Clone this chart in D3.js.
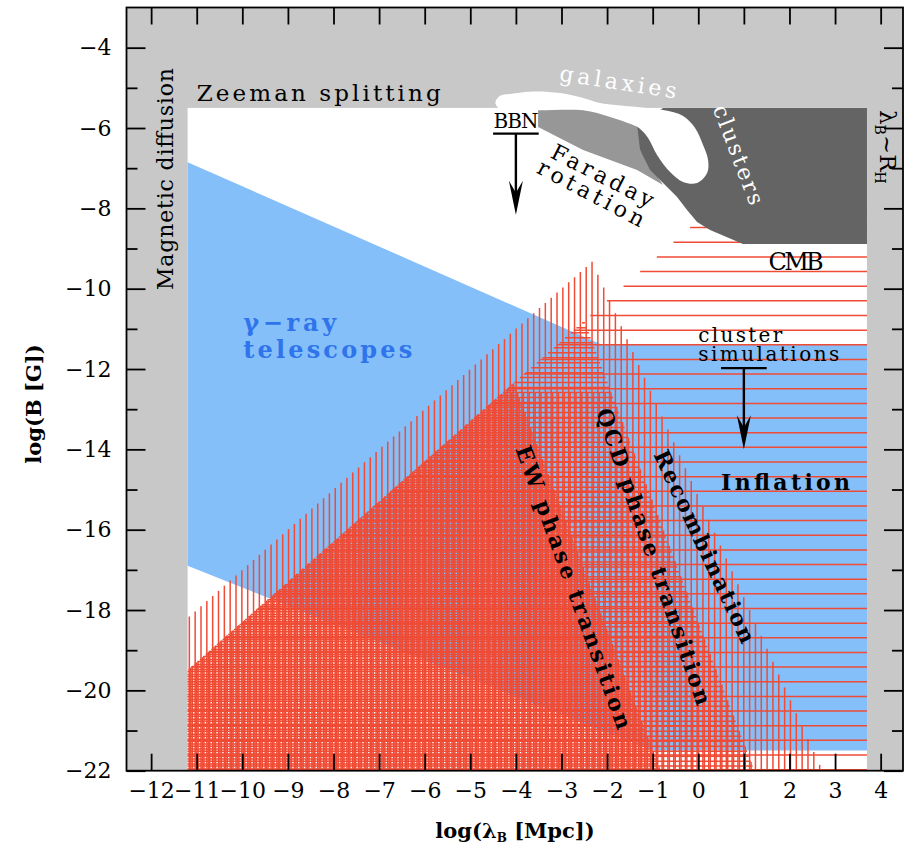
<!DOCTYPE html>
<html><head><meta charset="utf-8">
<script src="https://cdn.jsdelivr.net/npm/d3@7"></script>
<style>body{margin:0;background:#fff}</style>
</head><body>
<svg id="c" width="907" height="848"></svg>
<script>
// ---------------- data (log lambda [Mpc], log B [G]) ----------------
const xTickValues = [-12,-11,-10,-9,-8,-7,-6,-5,-4,-3,-2,-1,0,1,2,3,4];
const yMajorTicks = [-4,-6,-8,-10,-12,-14,-16,-18,-20,-22];
const yMinorTicks = [-5,-7,-9,-11,-13,-15,-17,-19,-21];

const allowedBox = [[-11.2,-5.5],[3.7,-22]];            // white (not excluded) area
const gammaRay = [[-11.2,-6.85],[-2.1,-11.4],[3.7,-11.4],[3.7,-21.5],[-1.0,-21.5],[-11.2,-16.9]];
const faradayRegion = [[-3.513,-5.51],[-1.276,-5.51],[-1.276,-6.546],[-1.057,-6.92],[-0.772,-7.418],
  [-1.342,-7.044],[-2.526,-6.546],[-3.513,-5.976]];
const clusterRegion = [[-1.342,-5.924],[-0.772,-5.5],[3.7,-5.5],[3.7,-8.89],[0.98,-8.89],[0.259,-8.538],
  [-0.026,-8.339],[-0.246,-8.04],[-0.465,-7.717],[-0.772,-7.368],[-1.057,-7.044],[-1.276,-6.546]];
const galaxyBlob = [[-4.45,-5.38],[-4.35,-5.2],[-4.127,-5.153],[-3.623,-5.09],[-3.031,-5.128],[-2.526,-5.252],
  [-2.154,-5.377],[-1.342,-5.478],[-0.772,-5.551],[-0.333,-5.70],[-0.07,-6.0],[0.105,-6.422],[0.215,-6.795],
  [0.193,-7.119],[-0.026,-7.368],[-0.333,-7.343],[-0.618,-7.094],[-0.904,-6.671],[-1.1,-6.248],[-1.3,-6.0],
  [-1.43,-5.924],[-1.934,-5.725],[-2.526,-5.56],[-3.513,-5.56],[-4.3,-5.56]];

// hatched generation regions
const inflationRegion = [[-11.2,-19.5],[0.3,-8.0],[3.7,-8.0],[3.7,-22],[-11.2,-22]];
const recombRegion = [[-11.2,-22],[-11.2,-18.2],[-2.33,-9.33],[2.72,-22]];
const qcdRegion = [[-11.2,-22],[-11.2,-19.5],[-2.5,-10.8],[1.23,-22]];
const qcdLowRegion = [[-11.2,-22],[-11.2,-19.5],[-4.3,-12.6],[-1.9,-12.6],[1.23,-22]];
const ewRegion = [[-11.2,-22],[-11.2,-19.5],[-4.05,-12.35],[-0.83,-22]];

const bbnArrow = {x:-4.0, y0:-6.14, y1:-8.16, half:0.5};
const clusterArrow = {x:1.0, y0:-11.98, y1:-14.0, half:0.5};

// ---------------- drawing ----------------
const svg = d3.select('#c');
const x = d3.scaleLinear().domain([-12.54, 4.49]).range([126.5, 903]);
const y = d3.scaleLinear().domain([-22, -3]).range([770.7, 7.5]);
const FONT = 'DejaVu Serif';
const RED = '#ef4b35';

const plot = svg.append('g');
const line = d3.line().x(d=>x(d[0])).y(d=>y(d[1]));
const closed = pts => line(pts) + 'Z';

// excluded background
plot.append('rect').attr('x', x(-12.54)).attr('y', y(-3)).attr('width', x(4.49)-x(-12.54))
  .attr('height', y(-22)-y(-3)).attr('fill', '#c8c8c8');
plot.append('rect').attr('x', x(allowedBox[0][0])).attr('y', y(allowedBox[0][1]))
  .attr('width', x(allowedBox[1][0])-x(allowedBox[0][0])).attr('height', y(allowedBox[1][1])-y(allowedBox[0][1]))
  .attr('fill', '#fff');
plot.append('path').attr('d', closed(gammaRay)).attr('fill', '#84bffa');

// hatching helper
function span(poly, c, vertical) {
  const a = vertical ? 0 : 1, b = vertical ? 1 : 0;
  const hits = [];
  for (let i = 0; i < poly.length; i++) {
    const p = poly[i], q = poly[(i+1)%poly.length];
    if (p[a] === q[a]) { if (Math.abs(p[a]-c) < 1e-9) { hits.push(p[b], q[b]); } continue; }
    if ((p[a]-c)*(q[a]-c) <= 0) hits.push(p[b] + (c-p[a])/(q[a]-p[a])*(q[b]-p[b]));
  }
  return hits.length >= 2 ? [d3.min(hits), d3.max(hits)] : null;
}
function hatch(poly, vertical, step, offset) {
  const a = vertical ? 0 : 1;
  const lo = d3.min(poly, d=>d[a]), hi = d3.max(poly, d=>d[a]);
  const g = plot.append('g').attr('stroke', RED).attr('stroke-width', 1.5);
  for (let k = Math.ceil((lo-offset)/step); offset + k*step <= hi; k++) {
    const c = offset + k*step;
    const s = span(poly, c, vertical);
    if (!s) continue;
    if (vertical) g.append('line').attr('x1', x(c)).attr('x2', x(c)).attr('y1', y(s[0])).attr('y2', y(s[1]));
    else g.append('line').attr('y1', y(c)).attr('y2', y(c)).attr('x1', x(s[0])).attr('x2', x(s[1]));
  }
}
hatch(inflationRegion, false, 0.3647, -8.48);
hatch(recombRegion, true, 0.128, -2.33);
hatch(qcdRegion, false, 0.124, -10.85);
hatch(qcdLowRegion, true, 0.128, -2.298);
hatch(ewRegion, true, 0.128, -2.266);
hatch(ewRegion, false, 0.124, -12.41);

// upper grey constraints
plot.append('path').attr('d', closed(faradayRegion)).attr('fill', '#979797');
plot.append('path').attr('d', closed(clusterRegion)).attr('fill', '#646464');
plot.append('path').attr('d', d3.line().x(d=>x(d[0])).y(d=>y(d[1])).curve(d3.curveCatmullRomClosed)(galaxyBlob))
  .attr('fill', '#fff');

// labels
function txt(p, s, o) {
  const t = svg.append('text')
    .attr('transform', `translate(${x(p[0])},${y(p[1])}) rotate(${o.angle||0})`)
    .attr('font-family', FONT).attr('font-size', o.size||22).attr('font-weight', o.weight||'normal')
    .attr('fill', o.fill||'#000').attr('text-anchor', o.anchor||'start').text(s);
  if (o.len) t.attr('textLength', o.len).attr('lengthAdjust', 'spacing');
  return t;
}
txt([-11.0,-5.33], 'Zeeman splitting', {size:23, len:244});
txt([-11.52,-7.27], 'Magnetic diffusion', {size:22, len:222, angle:-90, anchor:'middle'});
txt([-1.781,-5.04], 'galaxies', {size:22, len:118, angle:8.7, anchor:'middle', fill:'#fff'});
txt([0.727,-6.736], 'clusters', {size:22, len:105, angle:69, anchor:'middle', fill:'#fff'});
txt([-4.0,-6.0], 'BBN', {size:20, len:45, anchor:'middle'});
txt([-2.175,-7.356], 'Faraday', {size:22, len:112, angle:27, anchor:'middle'});
txt([-2.428,-7.791], 'rotation', {size:22, len:118, angle:28, anchor:'middle'});
txt([2.145,-9.534], 'CMB', {size:24, len:55, anchor:'middle'});
txt([0.0,-11.339], 'cluster', {size:20, len:84});
txt([0.0,-11.8], 'simulations', {size:20, len:141});
txt([0.5,-15.01], 'Inflation', {size:22, len:129, weight:'bold'});
txt([-9.98,-11.05], 'γ−ray', {size:24, len:93, weight:'bold', fill:'#2f74ea'});
txt([-9.98,-11.72], 'telescopes', {size:24, len:169, weight:'bold', fill:'#2f74ea'});
txt([-2.89,-17.5], 'EW phase transition', {size:22, len:300, weight:'bold', angle:70, anchor:'middle'});
txt([-1.136,-16.73], 'QCD phase transition', {size:22, len:312, weight:'bold', angle:71, anchor:'middle'});
txt([-0.016,-16.5], 'Recombination', {size:22, len:210, weight:'bold', angle:65, anchor:'middle'});
// lambda_B ~ R_H
const lr = svg.append('text').attr('transform', `translate(${x(3.98)},${y(-6.47)}) rotate(90)`)
  .attr('font-family', FONT).attr('font-size', 23).attr('text-anchor', 'middle');
lr.append('tspan').text('λ');
lr.append('tspan').attr('font-size', 14).attr('dy', 5).text('B');
lr.append('tspan').attr('dy', -5).text('~R');
lr.append('tspan').attr('font-size', 14).attr('dy', 5).text('H');

// arrows (upper limits)
function arrow(a) {
  const g = svg.append('g');
  g.append('line').attr('x1', x(a.x-a.half)).attr('x2', x(a.x+a.half)).attr('y1', y(a.y0)).attr('y2', y(a.y0))
    .attr('stroke', '#000').attr('stroke-width', 2.2);
  g.append('line').attr('x1', x(a.x)).attr('x2', x(a.x)).attr('y1', y(a.y0)).attr('y2', y(a.y1)-12)
    .attr('stroke', '#000').attr('stroke-width', 2.4);
  const tx = x(a.x), ty = y(a.y1);
  g.append('path').attr('d', `M${tx},${ty} L${tx-7},${ty-34} L${tx},${ty-22} L${tx+7},${ty-34} Z`).attr('fill', '#000');
}
arrow(bbnArrow);
arrow(clusterArrow);

// frame and axes
const fmt = d => (d < 0 ? '\u2212' : '') + Math.abs(d);
const axStyle = g => {
  g.select('.domain').remove();
  g.selectAll('line').attr('stroke', '#000').attr('stroke-width', 1.8);
  g.selectAll('text').attr('font-family', FONT).attr('font-size', 22).attr('fill', '#000');
};
const L = x.range()[0], R = x.range()[1], T = y.range()[1], B = y.range()[0];
svg.append('g').attr('transform', `translate(${L},0)`)
  .call(d3.axisLeft(y).tickValues(yMajorTicks).tickSize(-19).tickPadding(15).tickFormat(fmt)).call(axStyle);
svg.append('g').attr('transform', `translate(${L},0)`)
  .call(d3.axisLeft(y).tickValues(yMinorTicks).tickSize(-11).tickFormat('')).call(axStyle);
svg.append('g').attr('transform', `translate(${R},0)`)
  .call(d3.axisRight(y).tickValues(yMajorTicks).tickSize(-19).tickFormat('')).call(axStyle);
svg.append('g').attr('transform', `translate(${R},0)`)
  .call(d3.axisRight(y).tickValues(yMinorTicks).tickSize(-11).tickFormat('')).call(axStyle);
svg.append('g').attr('transform', `translate(0,${B})`)
  .call(d3.axisBottom(x).tickValues(xTickValues).tickSize(-17).tickPadding(12).tickFormat(fmt)).call(axStyle);
svg.append('g').attr('transform', `translate(0,${T})`)
  .call(d3.axisTop(x).tickValues(xTickValues).tickSize(-17).tickFormat('')).call(axStyle);
svg.append('rect').attr('x', L).attr('y', T).attr('width', R-L).attr('height', B-T)
  .attr('fill', 'none').attr('stroke', '#000').attr('stroke-width', 1.8);

// axis titles
svg.append('text').attr('transform', `translate(41,404) rotate(-90)`).attr('text-anchor', 'middle')
  .attr('font-family', FONT).attr('font-size', 21).attr('font-weight', 'bold').text('log(B [G])');
const xt = svg.append('text').attr('x', 515).attr('y', 838).attr('text-anchor', 'middle')
  .attr('font-family', FONT).attr('font-size', 21).attr('font-weight', 'bold');
xt.append('tspan').text('log(λ');
xt.append('tspan').attr('font-size', 12).attr('dy', 4).text('B');
xt.append('tspan').attr('dy', -4).text(' [Mpc])');
</script>
</body></html>
